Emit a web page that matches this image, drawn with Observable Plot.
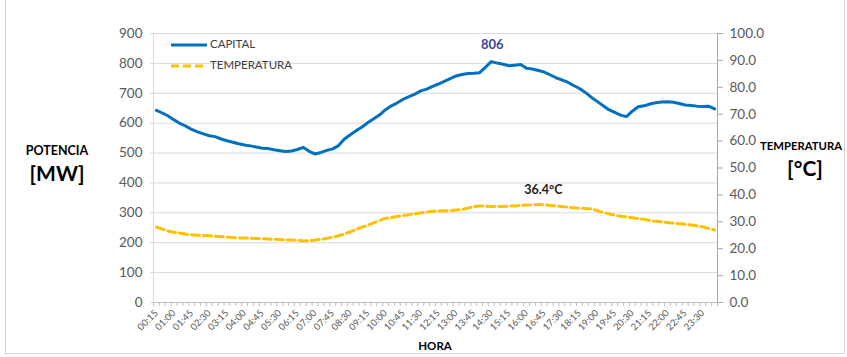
<!DOCTYPE html>
<html>
<head>
<meta charset="utf-8">
<script src="https://cdn.jsdelivr.net/npm/d3@7"></script>
<script src="https://cdn.jsdelivr.net/npm/@observablehq/plot@0.6"></script>
<style>
  html, body { margin: 0; padding: 0; background: #fff; }
  #wrap { position: relative; width: 847px; height: 357px; font-family: Lato, "Liberation Sans", sans-serif; overflow: hidden; }
  .lbl { position: absolute; font-weight: bold; color: #000; white-space: nowrap; transform: translate(-50%, -50%); }
  #border { position: absolute; left: 5px; top: -2px; width: 838px; height: 355px; border: 1px solid #d4d4d4; border-top: none; }
  .leg { position: absolute; font-size: 11.5px; color: #404040; white-space: nowrap; }
</style>
</head>
<body>
<div id="wrap">
  <div id="border"></div>
  <div id="chart"></div>
  <div class="lbl" style="left:57px; top:150px; font-size:12.5px;">POTENCIA</div>
  <div class="lbl" style="left:57px; top:172px; font-size:21px;">[MW]</div>
  <div class="lbl" style="left:801px; top:145px; font-size:11.3px;">TEMPERATURA</div>
  <div class="lbl" style="left:805px; top:167px; font-size:21px;">[°C]</div>
  <div class="lbl" style="left:435px; top:345px; font-size:11.5px;">HORA</div>
  <svg style="position:absolute; left:0; top:0;" width="300" height="80">
    <line x1="171" y1="45" x2="207" y2="45" stroke="#0070c0" stroke-width="3"/>
    <line x1="171" y1="66" x2="207" y2="66" stroke="#ffc000" stroke-width="3" stroke-dasharray="8,4"/>
  </svg>
  <div class="leg" style="left:210px; top:37px;">CAPITAL</div>
  <div class="leg" style="left:210px; top:58px;">TEMPERATURA</div>
</div>
<script>
const horas = [
  "00:15","00:30","00:45","01:00","01:15","01:30","01:45","02:00","02:15","02:30","02:45","03:00",
  "03:15","03:30","03:45","04:00","04:15","04:30","04:45","05:00","05:15","05:30","05:45","06:00",
  "06:15","06:30","06:45","07:00","07:15","07:30","07:45","08:00","08:15","08:30","08:45","09:00",
  "09:15","09:30","09:45","10:00","10:15","10:30","10:45","11:00","11:15","11:30","11:45","12:00",
  "12:15","12:30","12:45","13:00","13:15","13:30","13:45","14:00","14:15","14:30","14:45","15:00",
  "15:15","15:30","15:45","16:00","16:15","16:30","16:45","17:00","17:15","17:30","17:45","18:00",
  "18:15","18:30","18:45","19:00","19:15","19:30","19:45","20:00","20:15","20:30","20:45","21:00",
  "21:15","21:30","21:45","22:00","22:15","22:30","22:45","23:00","23:15","23:30","23:45","00:00"
];

const capital = [
  643,634,624,611,599,590,579,571,564,558,555,547,
  541,536,531,527,524,520,516,515,511,508,505,507,
  512,519,506,497,502,509,514,525,547,561,575,587,
  602,615,628,645,658,668,680,689,697,708,714,723,
  731,740,749,758,763,766,767,769,787,806,801,797,
  792,794,796,784,781,776,771,762,752,745,737,726,
  716,703,687,673,659,645,636,627,622,640,655,658,
  664,668,671,672,670,666,661,659,657,656,657,648
];

const temperatura = [
  28.0,27.3,26.6,26.1,25.8,25.4,25.2,25.0,24.9,24.8,24.6,24.5,
  24.3,24.2,24.0,24.0,23.9,23.8,23.7,23.6,23.5,23.4,23.3,23.2,
  23.1,23.0,23.0,23.2,23.5,23.8,24.3,24.8,25.5,26.3,27.2,28.0,
  28.8,29.6,30.5,31.3,31.6,32.0,32.3,32.6,33.0,33.3,33.6,33.9,
  34.0,34.1,34.2,34.4,34.6,35.1,35.6,35.9,35.8,35.7,35.7,35.7,
  35.8,35.9,36.1,36.2,36.3,36.4,36.3,36.1,35.9,35.7,35.5,35.2,
  35.1,34.9,34.8,34.2,33.5,33.0,32.5,32.1,31.8,31.5,31.2,30.9,
  30.5,30.2,30.0,29.7,29.5,29.3,29.1,28.8,28.5,28.1,27.5,27.0
];

const mwTicks = [0,100,200,300,400,500,600,700,800,900];
const tempTicks = [0,10,20,30,40,50,60,70,80,90,100];

const K = 9; // 100 °C  <->  900 MW
const rows = horas.map((h, i) => ({i, hora: h, mw: capital[i], t: temperatura[i]}));
const labelIdx = d3.range(0, horas.length, 3);
const boundaries = d3.range(-0.5, horas.length, 1);
const maxMW = rows.reduce((a, b) => b.mw > a.mw ? b : a);
const maxT = rows.reduce((a, b) => b.t > a.t ? b : a);

const chart = Plot.plot({
  width: 847,
  height: 357,
  marginLeft: 153,
  marginRight: 130,
  marginTop: 33,
  marginBottom: 55,
  style: {fontFamily: "Lato, 'Liberation Sans', sans-serif", background: "transparent", overflow: "visible"},
  x: {type: "linear", domain: [-0.5, horas.length - 0.5]},
  y: {domain: [0, 900]},
  marks: [
    Plot.gridY(mwTicks, {stroke: "#d9d9d9", strokeOpacity: 1}),
    Plot.ruleX([-0.5], {stroke: "#d9d9d9", strokeOpacity: 1}),
    Plot.ruleX([horas.length - 0.5], {stroke: "#a6a6a6"}),
    Plot.ruleY([0], {stroke: "#bfbfbf"}),
    Plot.axisY(mwTicks, {anchor: "left", tickSize: 3, tickPadding: 8, stroke: "#d9d9d9", fill: "#595959", fontSize: 13.5, label: null}),
    Plot.axisY(tempTicks.map(d => d * K), {anchor: "right", tickSize: 5, tickPadding: 7, stroke: "#a6a6a6", fill: "#595959", fontSize: 13.5, tickFormat: d => (d / K).toFixed(1), label: null}),
    Plot.axisX(boundaries, {anchor: "bottom", tickSize: 4, stroke: "#bfbfbf", tickFormat: () => "", label: null}),
    Plot.axisX(labelIdx, {anchor: "bottom", tickSize: 0, tickPadding: 9, tickRotate: -45, fill: "#595959", fontSize: 9.5, tickFormat: i => horas[i], label: null}),
    Plot.line(rows, {x: "i", y: d => d.t * K, stroke: "#ffc000", strokeWidth: 3, strokeDasharray: "8,4", curve: "catmull-rom"}),
    Plot.line(rows, {x: "i", y: "mw", stroke: "#0070c0", strokeWidth: 3}),
    Plot.text([maxMW], {x: "i", y: "mw", text: d => String(d.mw), dy: -17, dx: 1, fill: "#44449b", fontWeight: "bold", fontSize: 13}),
    Plot.text([maxT], {x: "i", y: d => d.t * K, text: d => d.t.toFixed(1) + "°C", dy: -15, dx: 5, fill: "#1a1a1a", fontWeight: "bold", fontSize: 12.5})
  ]
});
document.getElementById("chart").appendChild(chart);
</script>
</body>
</html>
